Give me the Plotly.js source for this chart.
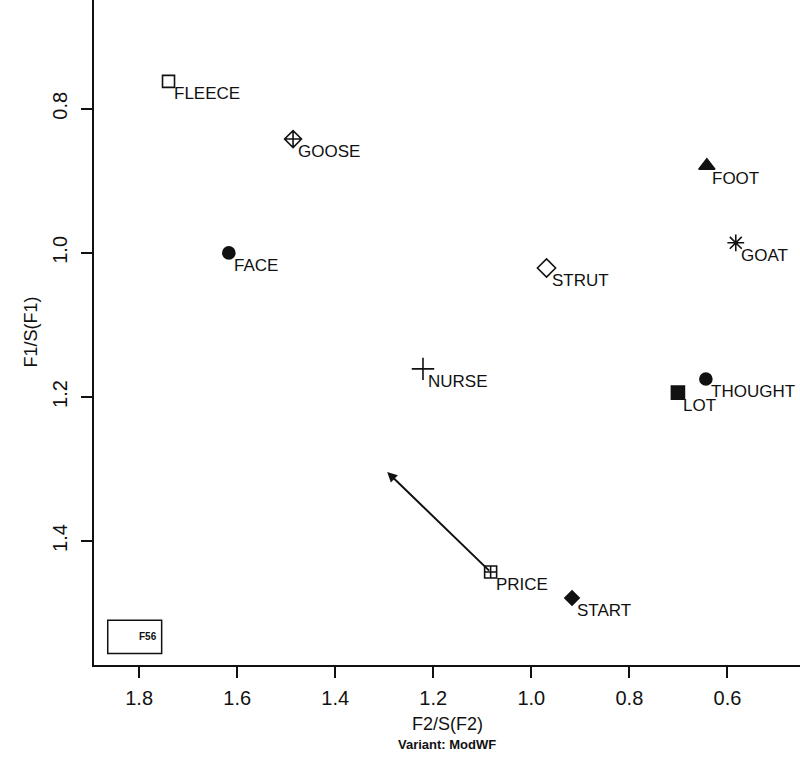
<!DOCTYPE html>
<html>
<head>
<meta charset="utf-8">
<script src="https://cdn.plot.ly/plotly-3.0.1.min.js"></script>
<style>html,body{margin:0;padding:0;background:#fff;}#chart{width:800px;height:760px;}</style>
</head>
<body>
<div id="chart"></div>
<script>
// Vowel data
var words   = ["FLEECE","GOOSE","FOOT","GOAT","FACE","STRUT","NURSE","THOUGHT","LOT","PRICE","START"];
var f2      = [1.740, 1.486, 0.642, 0.583, 1.617, 0.969, 1.221, 0.644, 0.701, 1.083, 0.917];
var f1      = [0.762, 0.842, 0.879, 0.986, 1.000, 1.021, 1.161, 1.175, 1.194, 1.443, 1.479];
var symbols = ["square-open","diamond-cross-open","triangle-up","asterisk-open","circle","diamond-open","cross-thin-open","circle","square","square-cross-open","diamond"];
var sizes   = [12, 13, 14, 14, 12, 14, 16, 12, 13, 12, 11];
// diphthong glide (PRICE -> end point)
var glideStart = [1.083, 1.443];
var glideEnd   = [1.294, 1.304];
var xTicks = [1.8, 1.6, 1.4, 1.2, 1.0, 0.8, 0.6];
var yTicks = [0.8, 1.0, 1.2, 1.4];
var legendLabel = "F56";

var ink = "#111";
var fam = "Liberation Sans, Arial, sans-serif";
var trace = {
  x: f2, y: f1, mode: "markers", type: "scatter",
  marker: {symbol: symbols, size: sizes, color: ink, opacity: 1, line: {color: ink, width: 1.6}},
  hoverinfo: "skip", showlegend: false
};

var ann = words.map(function(w, i){
  return {x: f2[i], y: f1[i], xref: "x", yref: "y", text: w, showarrow: false,
    xanchor: "left", yanchor: "top", xshift: 3, yshift: -1,
    font: {family: fam, size: 17, color: ink}};
});
ann.push({x: glideEnd[0], y: glideEnd[1], ax: glideStart[0], ay: glideStart[1],
  xref: "x", yref: "y", axref: "x", ayref: "y", text: "", showarrow: true,
  arrowhead: 2, arrowsize: 1, arrowwidth: 2, arrowcolor: ink, standoff: 0, startstandoff: 0});
ann.push({x: 1.760, y: 1.533, xref: "x", yref: "y", text: "<b>" + legendLabel + "</b>", showarrow: false,
  xanchor: "right", yanchor: "middle",
  font: {family: fam, size: 10, color: ink}});
// axis titles
ann.push({xref: "paper", yref: "paper", x: 0.5, y: 0, yshift: -47, xanchor: "center", yanchor: "top",
  text: "F2/S(F2)", showarrow: false, font: {family: fam, size: 18, color: ink}});
ann.push({xref: "paper", yref: "paper", x: 0.5, y: 0, yshift: -70, xanchor: "center", yanchor: "top",
  text: "<b>Variant: ModWF</b>", showarrow: false, font: {family: fam, size: 13, color: ink}});
ann.push({xref: "paper", yref: "paper", x: 0, y: 0.5, xshift: -64, xanchor: "center", yanchor: "middle",
  textangle: -90, text: "F1/S(F1)", showarrow: false,
  font: {family: fam, size: 18, color: ink}});

var layout = {
  width: 800, height: 760,
  margin: {l: 94, r: 0, t: 0, b: 95},
  paper_bgcolor: "#fff", plot_bgcolor: "#fff",
  xaxis: {range: [1.892, 0.452], tickvals: xTicks, ticktext: xTicks.map(function(v){return v.toFixed(1);}),
    showgrid: false, zeroline: false, showline: true, linecolor: ink, linewidth: 2,
    ticks: "outside", ticklen: 11, tickwidth: 2, tickcolor: ink,
    tickfont: {family: fam, size: 20, color: ink}, ticklabelstandoff: 3},
  yaxis: {range: [1.572, 0.649], tickvals: yTicks, ticktext: yTicks.map(function(v){return v.toFixed(1);}),
    showgrid: false, zeroline: false, showline: true, linecolor: ink, linewidth: 2,
    ticks: "outside", ticklen: 11, tickwidth: 2, tickcolor: ink, tickangle: -90,
    tickfont: {family: fam, size: 20, color: ink}, ticklabelstandoff: 6},
  shapes: [{type: "rect", xref: "x", yref: "y", x0: 1.864, x1: 1.754, y0: 1.510, y1: 1.556,
    line: {color: ink, width: 1.5}, fillcolor: "rgba(0,0,0,0)"}],
  annotations: ann
};
Plotly.newPlot("chart", [trace], layout, {displayModeBar: false, staticPlot: true});
</script>
</body>
</html>
